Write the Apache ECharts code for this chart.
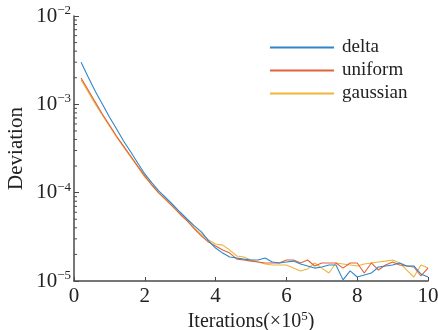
<!DOCTYPE html>
<html>
<head>
<meta charset="utf-8">
<script src="https://cdn.jsdelivr.net/npm/echarts@6/dist/echarts.min.js"></script>
<style>
  html, body { margin: 0; padding: 0; background: #fff; }
  #chart { width: 438px; height: 330px; }
</style>
</head>
<body>
<div id="chart"></div>
<script>
// iterations (x 10^5)
const iterations = [
  0.2, 0.4, 0.6, 0.8, 1.0, 1.2, 1.4, 1.6, 1.8, 2.0,
  2.2, 2.4, 2.6, 2.8, 3.0, 3.2, 3.4, 3.6, 3.8, 4.0,
  4.2, 4.4, 4.6, 4.8, 5.0, 5.2, 5.4, 5.6, 5.8, 6.0,
  6.2, 6.4, 6.6, 6.8, 7.0, 7.2, 7.4, 7.6, 7.8, 8.0,
  8.2, 8.4, 8.6, 8.8, 9.0, 9.2, 9.4, 9.6, 9.8, 10.0
];

const delta = [
  3.0e-3, 2.04e-3, 1.41e-3, 1.01e-3, 7.2e-4, 5.3e-4, 3.85e-4, 2.9e-4, 2.17e-4, 1.63e-4,
  1.29e-4, 1.04e-4, 8.7e-5, 7.25e-5, 6.0e-5, 5.0e-5, 4.2e-5, 3.6e-5, 2.84e-5, 2.36e-5,
  2.07e-5, 1.87e-5, 1.82e-5, 1.77e-5, 1.73e-5, 1.73e-5, 1.82e-5, 1.64e-5, 1.60e-5, 1.64e-5,
  1.68e-5, 1.56e-5, 1.48e-5, 1.40e-5, 1.44e-5, 1.52e-5, 1.52e-5, 1.03e-5, 1.30e-5, 1.11e-5,
  1.17e-5, 1.23e-5, 1.44e-5, 1.48e-5, 1.52e-5, 1.60e-5, 1.48e-5, 1.48e-5, 1.20e-5, 1.11e-5
];

const uniform = [
  1.99e-3, 1.45e-3, 1.06e-3, 7.78e-4, 5.84e-4, 4.38e-4, 3.37e-4, 2.60e-4, 2.00e-4, 1.55e-4,
  1.22e-4, 9.9e-5, 8.3e-5, 6.9e-5, 5.7e-5, 4.8e-5, 3.9e-5, 3.23e-5, 2.76e-5, 2.49e-5,
  2.24e-5, 2.07e-5, 1.77e-5, 1.73e-5, 1.68e-5, 1.64e-5, 1.60e-5, 1.60e-5, 1.60e-5, 1.73e-5,
  1.73e-5, 1.60e-5, 1.73e-5, 1.48e-5, 1.60e-5, 1.60e-5, 1.60e-5, 1.40e-5, 1.60e-5, 1.60e-5,
  1.23e-5, 1.60e-5, 1.33e-5, 1.52e-5, 1.64e-5, 1.52e-5, 1.48e-5, 1.44e-5, 1.14e-5, 1.40e-5
];

const gaussian = [
  1.89e-3, 1.38e-3, 1.01e-3, 7.57e-4, 5.69e-4, 4.27e-4, 3.29e-4, 2.54e-4, 1.95e-4, 1.50e-4,
  1.22e-4, 9.9e-5, 8.3e-5, 6.9e-5, 5.7e-5, 4.8e-5, 3.98e-5, 3.40e-5, 2.91e-5, 2.62e-5,
  2.55e-5, 2.24e-5, 1.92e-5, 1.87e-5, 1.73e-5, 1.64e-5, 1.56e-5, 1.52e-5, 1.52e-5, 1.52e-5,
  1.40e-5, 1.30e-5, 1.37e-5, 1.60e-5, 1.40e-5, 1.23e-5, 1.60e-5, 1.56e-5, 1.52e-5, 1.48e-5,
  1.56e-5, 1.60e-5, 1.64e-5, 1.68e-5, 1.73e-5, 1.60e-5, 1.33e-5, 1.11e-5, 1.52e-5, 1.40e-5
];

const seriesNames = ['delta', 'uniform', 'gaussian'];
const seriesColors = ['#2e86c9', '#e2623a', '#eeb53a'];
const xTicks = [0, 2, 4, 6, 8, 10];

// minor log ticks 2..9 x 10^n
const minorTicks = [];
[1e-5, 1e-4, 1e-3].forEach((d) => {
  for (let m = 2; m <= 9; m++) minorTicks.push([0, m * d]);
});

const FONT = 'Liberation Serif';
const AXIS_COLOR = '#4a4a4a';

const chart = echarts.init(document.getElementById('chart'));

const option = {
  animation: false,
  backgroundColor: '#fff',
  grid: {
    left: 74,
    right: 10,
    top: 16,
    bottom: 49,
    containLabel: false,
    outerBoundsMode: 'none',
  },
  legend: {
    data: seriesNames,
    orient: 'vertical',
    left: 265,
    top: 33,
    itemGap: 4,
    itemWidth: 64,
    itemHeight: 2,
    icon: 'rect',
    textStyle: {
      fontFamily: FONT,
      fontSize: 19,
      color: '#222',
      padding: [0, 0, 0, 3],
    },
  },
  xAxis: {
    type: 'value',
    min: 0,
    max: 10,
    interval: 2,
    name: '{t|Iterations(×10}{s|5}{t|)}',
    nameLocation: 'middle',
    nameGap: 29,
    nameMoveOverlap: false,
    nameTextStyle: {
      fontFamily: FONT,
      fontSize: 20,
      color: '#222',
      rich: {
        t: { fontFamily: FONT, fontSize: 20, color: '#222' },
        s: { fontFamily: FONT, fontSize: 13, color: '#222', padding: [0, 0, 10, 0] },
      },
    },
    axisLine: { lineStyle: { color: AXIS_COLOR, width: 1.5 } },
    axisTick: { inside: true, length: 4, lineStyle: { color: AXIS_COLOR } },
    axisLabel: {
      fontFamily: FONT,
      fontSize: 21,
      color: '#222',
      margin: 5,
      customValues: xTicks,
    },
    splitLine: { show: false },
  },
  yAxis: {
    type: 'log',
    logBase: 10,
    min: 1e-5,
    max: 1e-2,
    name: 'Deviation',
    nameLocation: 'middle',
    nameGap: 47,
    nameMoveOverlap: false,
    nameTextStyle: { fontFamily: FONT, fontSize: 21, color: '#222' },
    axisLine: { show: true, lineStyle: { color: AXIS_COLOR, width: 1.5 } },
    axisTick: { inside: true, length: 5, lineStyle: { color: AXIS_COLOR } },
    axisLabel: {
      margin: 3,
      formatter: (v) => {
        const e = Math.round(Math.log10(v));
        return '{b|10}{s|−' + Math.abs(e) + '}';
      },
      rich: {
        b: { fontFamily: FONT, fontSize: 21, color: '#222' },
        s: { fontFamily: FONT, fontSize: 13, color: '#222', padding: [0, 0, 11, 0] },
      },
    },
    splitLine: { show: false },
  },
  series: [
    ...seriesNames.map((name, i) => ({
      name,
      type: 'line',
      data: iterations.map((x, j) => [x, [delta, uniform, gaussian][i][j]]),
      showSymbol: false,
      symbol: 'none',
      lineStyle: { width: 1.1, color: seriesColors[i] },
      itemStyle: { color: seriesColors[i] },
      z: 3 - i,
    })),
    {
      type: 'custom',
      silent: true,
      clip: false,
      data: minorTicks,
      renderItem: (params, api) => {
        const p = api.coord([api.value(0), api.value(1)]);
        return {
          type: 'line',
          shape: { x1: p[0], y1: p[1], x2: p[0] + 3, y2: p[1] },
          style: { stroke: AXIS_COLOR, lineWidth: 1 },
        };
      },
      z: 1,
    },
  ],
};

chart.setOption(option);
</script>
</body>
</html>
